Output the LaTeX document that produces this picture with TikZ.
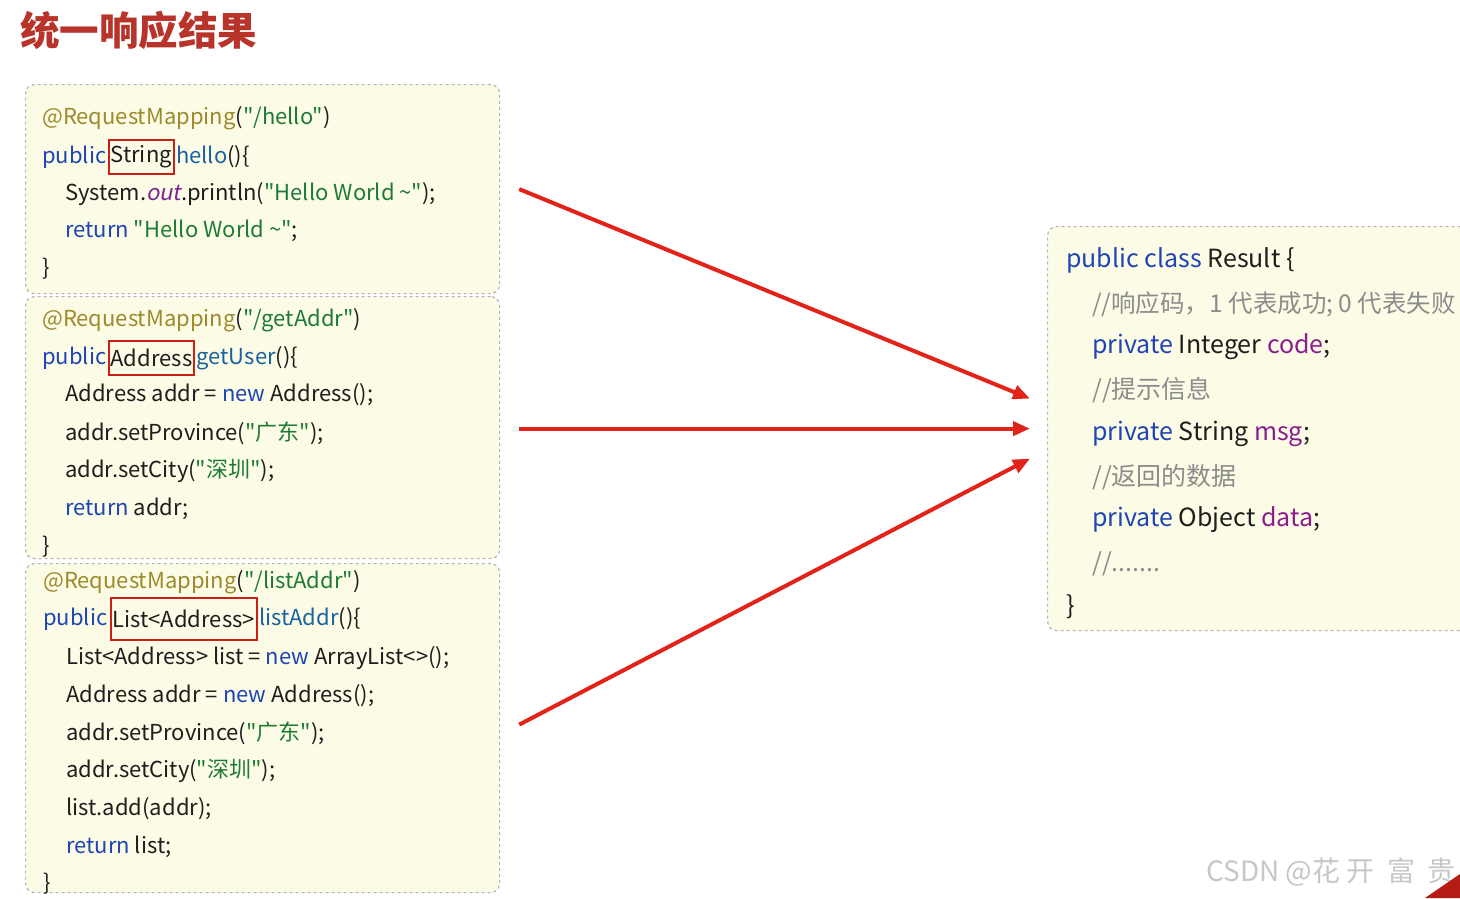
\documentclass[tikz,border=0pt]{standalone}
\usepackage{fontspec}
\setmainfont{Noto Sans CJK SC}[Ligatures=TeXOff]
\newfontfamily\slfont{Noto Sans CJK SC}[FakeSlant=0.2,Ligatures=TeXOff]
\usetikzlibrary{arrows.meta}
\definecolor{kwc}{HTML}{1F45B5}
\definecolor{strc}{HTML}{1E7B34}
\definecolor{annc}{HTML}{9C8A2C}
\definecolor{mthc}{HTML}{1A62A0}
\definecolor{fldc}{HTML}{8A1E8E}
\definecolor{cmtc}{HTML}{8C8C8C}
\definecolor{plainc}{HTML}{1E1E1E}
\definecolor{outc}{HTML}{7B2590}
\definecolor{cream}{HTML}{FCFBE6}
\definecolor{bordc}{HTML}{B4B4B4}
\definecolor{titlec}{HTML}{B8342A}
\definecolor{arrc}{HTML}{E2231A}
\newcommand\cKw[1]{\textcolor{kwc}{#1}}
\newcommand\cStr[1]{\textcolor{strc}{#1}}
\newcommand\cAnn[1]{\textcolor{annc}{#1}}
\newcommand\cMth[1]{\textcolor{mthc}{#1}}
\newcommand\cFld[1]{\textcolor{fldc}{#1}}
\newcommand\cCmt[1]{\textcolor{cmtc}{#1}}
\begin{document}
\begin{tikzpicture}[x=1pt,y=-1pt,
  codebox/.style={draw=bordc, dashed, line width=1.2pt, rounded corners=9pt, fill=cream, anchor=north west, inner sep=0pt},
  code/.style={anchor=west, inner sep=0pt, yshift=-2pt, text=plainc, font=\fontsize{22}{26}\selectfont},
  rcode/.style={anchor=west, inner sep=0pt, yshift=-2pt, text=plainc, font=\fontsize{25}{30}\selectfont},
  redbox/.style={draw=arrc!90!black, line width=2.2pt, anchor=west, inner xsep=2pt, minimum height=34pt, text=plainc, font=\fontsize{22}{26}\selectfont},
  arr/.style={draw=arrc, line width=4pt, -{Triangle[length=17pt,width=14pt]}}
]
\useasboundingbox (0,0) rectangle (1460,898);
\fill[white] (0,0) rectangle (1460,898);

% title
\node[anchor=west, inner sep=0pt, text=titlec, font=\fontsize{39.5}{44}\selectfont\bfseries] (title) at (20,30) {统一响应结果};

% boxes
\node[codebox, minimum width=474pt, minimum height=209pt] (b1) at (25,84) {};
\node[codebox, minimum width=474pt, minimum height=262pt] (b2) at (25,296) {};
\node[codebox, minimum width=474pt, minimum height=329pt] (b3) at (25,563) {};
\node[codebox, minimum width=440pt, minimum height=404pt] (rs) at (1047,226) {};

% box 1
\node[code] (a1) at (42,116) {\cAnn{@RequestMapping}(\cStr{"/hello"})};
\node[code] (p1) at (42,155) {\cKw{public}};
\node[redbox, xshift=1pt] (t1) at (p1.east) {String};
\node[code, yshift=2pt, xshift=1pt] (m1) at (t1.east) {\cMth{hello}()\{};
\node[code] (l13) at (65,192) {System.{\slfont\textcolor{outc}{out}}.println(\cStr{"Hello World \textasciitilde"});};
\node[code] (l14) at (65,229) {\cKw{return} \cStr{"Hello World \textasciitilde"};};
\node[code] (l15) at (42,267) {\}};

% box 2
\node[code] (a2) at (42,318) {\cAnn{@RequestMapping}(\cStr{"/getAddr"})};
\node[code] (p2) at (42,356) {\cKw{public}};
\node[redbox, xshift=1pt] (t2) at (p2.east) {Address};
\node[code, yshift=2pt, xshift=1pt] (m2) at (t2.east) {\cMth{getUser}()\{};
\node[code] (l23) at (65,393) {Address addr = \cKw{new} Address();};
\node[code] (l24) at (65,431) {addr.setProvince(\cStr{"广东"});};
\node[code] (l25) at (65,469) {addr.setCity(\cStr{"深圳"});};
\node[code] (l26) at (65,507) {\cKw{return} addr;};
\node[code] (l27) at (42,545) {\}};

% box 3
\node[code] (a3) at (43,580) {\cAnn{@RequestMapping}(\cStr{"/listAddr"})};
\node[code] (p3) at (43,617) {\cKw{public}};
\node[redbox, xshift=2pt, minimum height=42pt] (t3) at (p3.east) {List<Address>};
\node[code, yshift=2pt, xshift=1pt] (m3) at (t3.east) {\cMth{listAddr}()\{};
\node[code] (l33) at (66,656) {List<Address> list = \cKw{new} ArrayList<>();};
\node[code] (l34) at (66,694) {Address addr = \cKw{new} Address();};
\node[code] (l35) at (66,731) {addr.setProvince(\cStr{"广东"});};
\node[code] (l36) at (66,769) {addr.setCity(\cStr{"深圳"});};
\node[code] (l37) at (66,807) {list.add(addr);};
\node[code] (l38) at (66,845) {\cKw{return} list;};
\node[code] (l39) at (43,882) {\}};

% result class
\node[rcode] (r1) at (1066,258) {\cKw{public class} Result \{};
\node[rcode, font=\fontsize{24.5}{28}\selectfont] (r2) at (1092,302) {\cCmt{//响应码，1 代表成功; 0 代表失败}};
\node[rcode] (r3) at (1092,345) {\cKw{private} Integer \cFld{code};};
\node[rcode] (r4) at (1092,388) {\cCmt{//提示信息}};
\node[rcode] (r5) at (1092,432) {\cKw{private} String \cFld{msg};};
\node[rcode] (r6) at (1092,475) {\cCmt{//返回的数据}};
\node[rcode] (r7) at (1092,518) {\cKw{private} Object \cFld{data};};
\node[rcode] (r8) at (1092,562) {\cCmt{//.......}};
\node[rcode] (r9) at (1066,605) {\}};

% arrows
\draw[arr] ([xshift=19pt]b1.east) -- ([xshift=-17pt,yshift=30pt]rs.west);
\draw[arr] ([xshift=19pt,yshift=-1pt]b2.east) -- ([xshift=-17pt]rs.west);
\draw[arr] ([xshift=19pt,yshift=3.5pt]b3.east) -- ([xshift=-17pt,yshift=-30pt]rs.west);

% watermark and corner
\node[anchor=east, inner sep=0pt, text=black!22, font=\fontsize{28}{30}\selectfont] (wm) at (1456,872) {CSDN @花 开 \ 富 \ 贵};
\fill[arrc!80!black] (1425,898) -- (1460,874) -- (1460,898) -- cycle;
\end{tikzpicture}
\end{document}
